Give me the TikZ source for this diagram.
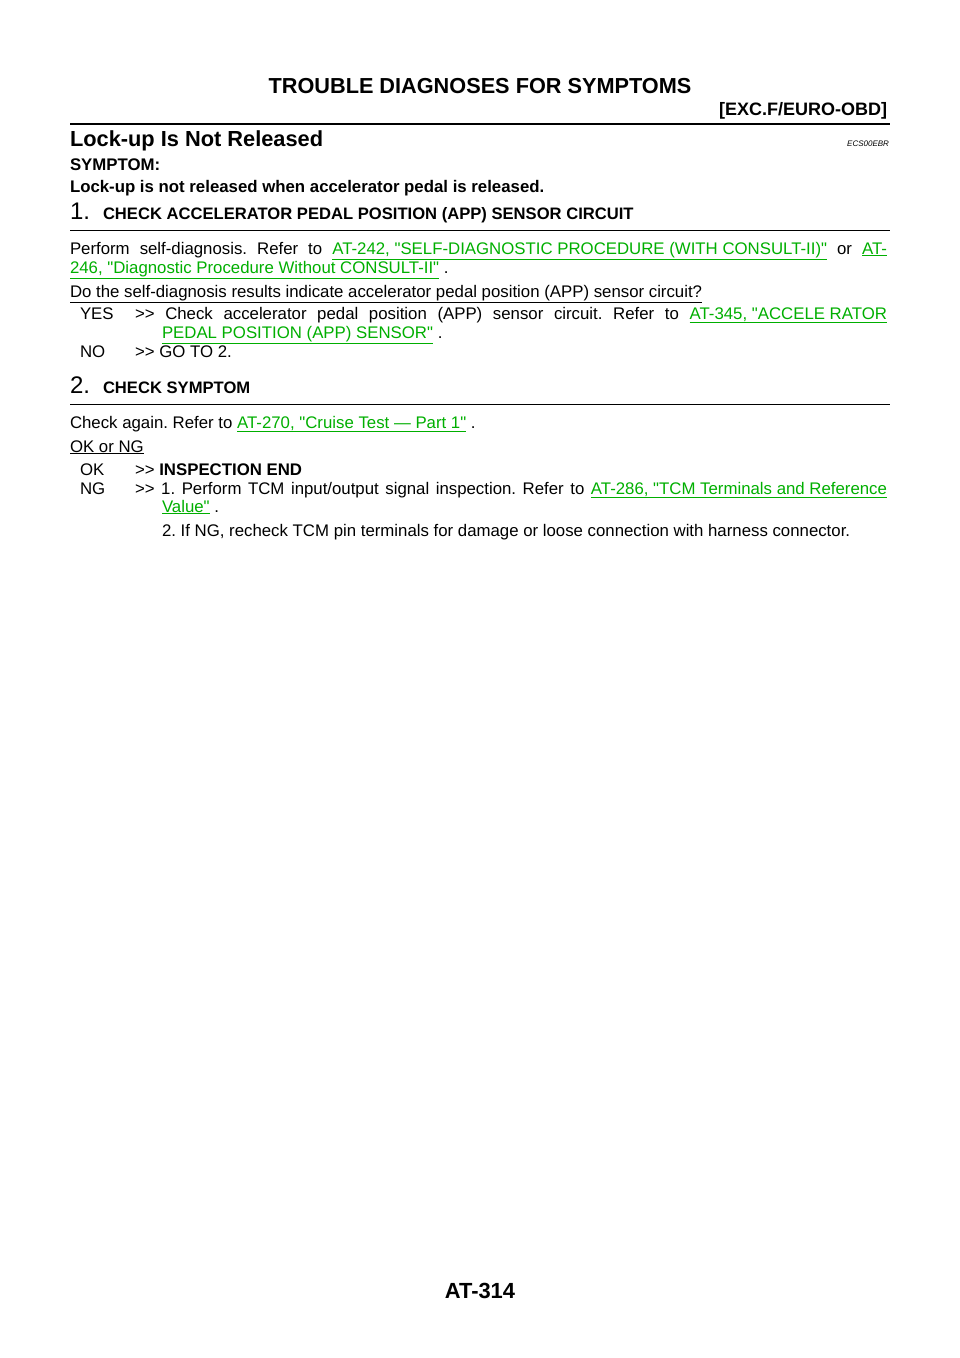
\documentclass[tikz,border=0pt]{standalone}
\usepackage{fontspec}
\setmainfont{Liberation Sans}[Ligatures=TeXReset]
\definecolor{lnk}{RGB}{0,175,0}
\newcommand{\lk}[1]{\textcolor{lnk}{\underline{#1}}}
\newcommand{\fs}[1]{\fontsize{#1pt}{#1pt}\selectfont}
\newcommand{\gtgt}{{>}{>}}
\frenchspacing
\begin{document}
\begin{tikzpicture}[x=1pt,y=-1pt,every node/.style={inner sep=0pt,outer sep=0pt},
  tx/.style={anchor=base west,font=\fs{16.8}}]
\useasboundingbox[fill=white] (0,0) rectangle (960,1358);
\node[anchor=base,font=\fs{21.7}\bfseries] (h1) at (480,93) {TROUBLE DIAGNOSES FOR SYMPTOMS};
\node[anchor=base east,font=\fs{18}\bfseries] (h2) at (887,115) {[EXC.F/EURO-OBD]};
\draw[line width=2pt] (70,124) -- (890,124);
\node[anchor=base west,font=\fs{21.8}\bfseries] (t) at (70,146) {Lock-up Is Not Released};
\node[anchor=base east,font=\fs{8}\itshape] (code) at (889,146) {ECS00EBR};
\node[tx,font=\fs{16.8}\bfseries] (s1) at (70,170) {SYMPTOM:};
\node[tx,font=\fs{16.8}\bfseries] (s2) at (70,192) {Lock-up is not released when accelerator pedal is released.};
\node[anchor=base west,font=\fs{24}] (n1) at (70,219) {1.};
\node[anchor=base west,font=\fs{16.6}\bfseries] (st1) at (103,219) {CHECK ACCELERATOR PEDAL POSITION (APP) SENSOR CIRCUIT};
\draw[line width=0.8pt] (70,230) -- (890,230);
\node[tx] (p1) at (70,254) {\makebox[817pt][s]{Perform self-diagnosis. Refer to \lk{AT-242, "SELF-DIAGNOSTIC PROCEDURE (WITH CONSULT-II)"} or \lk{AT-}}};
\node[tx] (p2) at (70,273) {\lk{246, "Diagnostic Procedure Without CONSULT-II"} .};
\node[tx] (q1) at (70,297) {\underline{Do the self-diagnosis results indicate accelerator pedal position (APP) sensor circuit?}};
\node[tx] (y1) at (80,319) {YES};
\node[tx] (y2) at (135,319) {\makebox[752pt][s]{\gtgt\ Check accelerator pedal position (APP) sensor circuit. Refer to \lk{AT-345, "ACCELE RATOR}}};
\node[tx] (y3) at (162,338) {\lk{PEDAL POSITION (APP) SENSOR"} .};
\node[tx] (no1) at (80,357) {NO};
\node[tx] (no2) at (135,357) {\gtgt\ GO TO 2.};
\node[anchor=base west,font=\fs{24}] (n2) at (70,393) {2.};
\node[anchor=base west,font=\fs{16.6}\bfseries] (st2) at (103,393) {CHECK SYMPTOM};
\draw[line width=0.8pt] (70,404) -- (890,404);
\node[tx] (c1) at (70,428) {Check again. Refer to \lk{AT-270, "Cruise Test — Part 1"} .};
\node[tx] (c2) at (70,452) {\underline{OK or NG}};
\node[tx] (ok1) at (80,475) {OK};
\node[tx] (ok2) at (135,475) {\gtgt\ \textbf{INSPECTION END}};
\node[tx] (ng1) at (80,494) {NG};
\node[tx] (ng2) at (135,494) {\makebox[752pt][s]{\gtgt\ 1. Perform TCM input/output signal inspection. Refer to \lk{AT-286, "TCM Terminals and Reference}}};
\node[tx] (ng3) at (162,512) {\lk{Value"} .};
\node[tx] (ng4) at (162,536) {2. If NG, recheck TCM pin terminals for damage or loose connection with harness connector.};
\node[anchor=base,font=\fs{21.9}\bfseries] (pg) at (480,1298) {AT-314};
\end{tikzpicture}
\end{document}
